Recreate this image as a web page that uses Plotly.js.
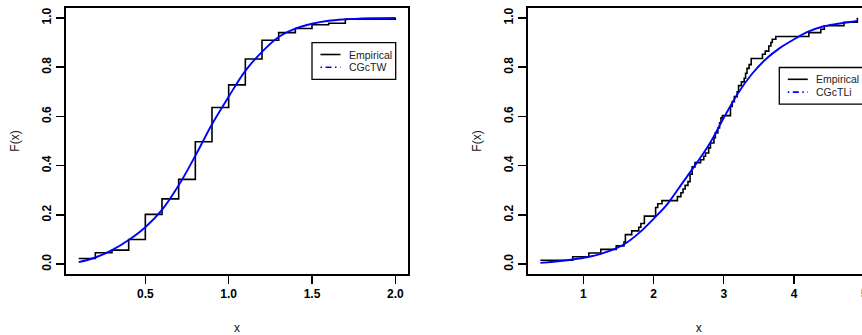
<!DOCTYPE html>
<html><head><meta charset="utf-8">
<script src="https://cdn.plot.ly/plotly-3.0.1.min.js"></script>
<style>html,body{margin:0;padding:0;overflow:hidden;background:#fff;width:862px;height:335px}</style>
</head><body><div id="chart" style="width:880px;height:335px"></div>
<script>
// ---- Data: left panel (CGcTW) ----
const empTW_x = [0.1,0.2,0.3,0.4,0.5,0.6,0.7,0.8,0.9,1.0,1.1,1.2,1.3,1.4,1.5,1.6,1.7,2.0];
const empTW_y = [0.023,0.046,0.057,0.100,0.202,0.265,0.344,0.497,0.636,0.728,0.833,0.909,0.940,0.957,0.972,0.978,0.995,1.0];
const cdfTW_x = [0.1,0.2,0.3,0.4,0.5,0.6,0.7,0.8,0.9,1.0,1.1,1.2,1.3,1.4,1.5,1.6,1.7,1.8,1.9,2.0];
const cdfTW_y = [0.008,0.027,0.057,0.098,0.15,0.22,0.32,0.44,0.568,0.68,0.785,0.862,0.922,0.956,0.976,0.988,0.994,0.998,0.999,1.0];

// ---- Data: right panel (CGcTLi) ----
const empTLi_x = [0.39,0.85,1.08,1.25,1.47,1.58,1.60,1.69,1.79,1.82,1.87,2.03,2.06,2.12,
  2.34,2.39,2.42,2.45,2.49,2.52,2.55,2.59,2.67,2.715,2.74,2.785,2.81,2.86,2.88,2.915,2.94,2.96,2.98,
  3.095,3.12,3.15,3.19,3.21,3.25,3.29,3.31,3.33,3.36,3.39,3.55,3.59,3.64,3.67,3.69,3.74,4.21,4.38,4.43,4.71,4.9];
const empTLi_y = [0.016,0.030,0.045,0.060,0.074,0.090,0.120,0.135,0.150,0.165,0.195,0.230,0.245,0.258,
  0.274,0.290,0.305,0.320,0.335,0.365,0.395,0.412,0.424,0.438,0.451,0.472,0.492,0.513,0.533,0.553,0.574,0.594,0.603,
  0.640,0.660,0.680,0.700,0.725,0.740,0.755,0.775,0.795,0.810,0.835,0.852,0.865,0.886,0.900,0.913,0.924,0.940,0.954,0.968,0.982,1.0];
const cdfTLi_x = [0.39,0.85,1.07,1.25,1.45,1.6,1.8,2.0,2.2,2.4,2.6,2.8,3.0,3.2,3.4,3.6,3.8,4.0,4.2,4.4,4.6,4.9];
const cdfTLi_y = [0.005,0.019,0.029,0.042,0.062,0.084,0.128,0.184,0.245,0.325,0.405,0.49,0.594,0.693,0.772,0.833,0.878,0.913,0.944,0.964,0.975,0.987];

const legendLabels = [["Empirical","CGcTW"],["Empirical","CGcTLi"]];
const yTicks = [0,0.2,0.4,0.6,0.8,1.0];

// ---- Layout helpers (pixel -> paper) ----
const W = 880, H = 335, ML = 66, MR = 10, MT = 8, MB = 61;
const PW = W - ML - MR, PH = H - MT - MB;
const px = v => (v - ML) / PW;
const py = v => (H - MB - v) / PH;

const FONT = '"Liberation Sans", Arial, Helvetica, sans-serif';
const BLACK = '#000000', BLUE = '#0000ff';

const traces = [
  {x: empTW_x, y: empTW_y, type:'scatter', mode:'lines', line:{shape:'hv', color:BLACK, width:1.6}, xaxis:'x', yaxis:'y', showlegend:false, hoverinfo:'skip'},
  {x: cdfTW_x, y: cdfTW_y, type:'scatter', mode:'lines', line:{shape:'spline', color:BLUE, width:1.9}, xaxis:'x', yaxis:'y', showlegend:false, hoverinfo:'skip'},
  {x: empTLi_x, y: empTLi_y, type:'scatter', mode:'lines', line:{shape:'hv', color:BLACK, width:1.6}, xaxis:'x2', yaxis:'y2', showlegend:false, hoverinfo:'skip'},
  {x: cdfTLi_x, y: cdfTLi_y, type:'scatter', mode:'lines', line:{shape:'spline', color:BLUE, width:1.9}, xaxis:'x2', yaxis:'y2', showlegend:false, hoverinfo:'skip'}
];

const axisCommon = {
  showgrid:false, zeroline:false, showline:true, mirror:true, linecolor:BLACK, linewidth:2,
  ticks:'outside', ticklen:8, tickwidth:1.3, tickcolor:BLACK,
  tickfont:{family:FONT, size:12, color:BLACK, weight:'bold'}, automargin:false
};

const layout = {
  width: W, height: H,
  margin:{l:ML, r:MR, t:MT, b:MB},
  paper_bgcolor:'#ffffff', plot_bgcolor:'#ffffff',
  font:{family:FONT, size:12, color:BLACK},
  showlegend:false,
  xaxis: Object.assign({}, axisCommon, {domain:[0, px(408)], range:[0.024, 2.076], tickmode:'array', tickvals:[0.5,1.0,1.5,2.0], ticktext:['0.5','1.0','1.5','2.0'],
    title:{text:'x', font:{family:FONT, size:12, color:'#111111'}, standoff:23}}),
  yaxis: Object.assign({}, axisCommon, {domain:[0,1], range:[-0.04,1.04], tickmode:'array', tickvals:yTicks, ticktext:yTicks.map(v=>v.toFixed(1)), tickangle:-90,
    title:{text:'F(x)', font:{family:FONT, size:12, color:'#111111'}, standoff:18}}),
  xaxis2: Object.assign({}, axisCommon, {domain:[px(527.7), 1], range:[0.21, 5.08], tickmode:'array', tickvals:[1,2,3,4,5], ticktext:['1','2','3','4','5'], anchor:'y2',
    title:{text:'x', font:{family:FONT, size:12, color:'#111111'}, standoff:23}}),
  yaxis2: Object.assign({}, axisCommon, {domain:[0,1], range:[-0.04,1.04], tickmode:'array', tickvals:yTicks, ticktext:yTicks.map(v=>v.toFixed(1)), tickangle:-90, anchor:'x2',
    title:{text:'F(x)', font:{family:FONT, size:12, color:'#111111'}, standoff:18}}),
  shapes: [],
  annotations: []
};

// legends drawn as boxes with sample lines and labels
function addLegend(left, top, labels) {
  const w = 83.7, h = 36.6;
  layout.shapes.push({type:'rect', xref:'paper', yref:'paper', x0:px(left), x1:px(left+w), y0:py(top), y1:py(top+h), line:{color:BLACK, width:1.3}, fillcolor:'rgba(255,255,255,1)', layer:'above'});
  const rows = [top+11.8, top+24.6];
  layout.shapes.push({type:'line', xref:'paper', yref:'paper', x0:px(left+8.5), x1:px(left+28.5), y0:py(rows[0]), y1:py(rows[0]), line:{color:BLACK, width:1.6}, layer:'above'});
  layout.shapes.push({type:'line', xref:'paper', yref:'paper', x0:px(left+8.5), x1:px(left+28.5), y0:py(rows[1]), y1:py(rows[1]), line:{color:BLUE, width:1.6, dash:'1.5px,3.5px,6px,3.5px'}, layer:'above'});
  labels.forEach((t,i)=>{
    layout.annotations.push({xref:'paper', yref:'paper', x:px(left+34.5), y:py(rows[i]), xanchor:'left', yanchor:'middle', text:t, showarrow:false,
      font:{family:FONT, size:10.5, color:'#222222'}});
  });
}
addLegend(312, 42.7, legendLabels[0]);
addLegend(779.3, 67.5, legendLabels[1]);

Plotly.newPlot('chart', traces, layout, {staticPlot:true, displayModeBar:false});
</script>
</body></html>
